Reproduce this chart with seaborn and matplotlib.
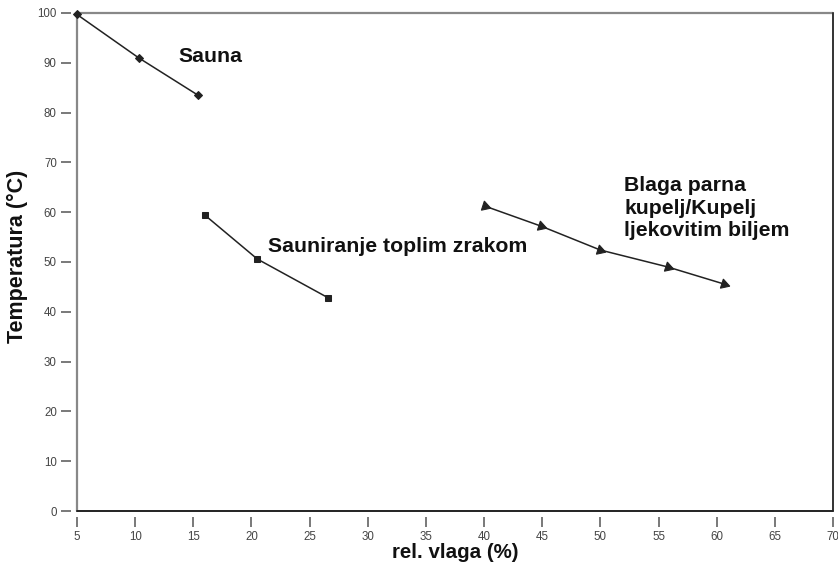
import matplotlib
matplotlib.use("Agg")
import matplotlib.pyplot as plt
from matplotlib.lines import Line2D
import seaborn as sns
import pandas as pd

sns.set_theme(style="white")
plt.rcParams['font.family'] = ['Liberation Sans', 'DejaVu Sans']

sauna_x = [5.0, 10.3, 15.4]
sauna_y = [99.7, 91.0, 83.5]
topli_x = [16.0, 20.5, 26.6]
topli_y = [59.4, 50.6, 42.8]
blaga_x = [40.1, 44.9, 50.0, 55.8, 60.6]
blaga_y = [61.2, 57.2, 52.4, 49.0, 45.6]

x_ticks = list(range(5, 75, 5))
y_ticks = list(range(0, 110, 10))

label_sauna = "Sauna"
label_topli = "Sauniranje toplim zrakom"
label_blaga = "Blaga parna\nkupelj/Kupelj\nljekovitim biljem"

fig = plt.figure(figsize=(8.38, 5.63), dpi=100)
ax = fig.add_axes([77/838, 1-511/563, (833-77)/838, (511-13)/563])

line_col = "#222222"
df1 = pd.DataFrame({"x": sauna_x, "y": sauna_y})
df2 = pd.DataFrame({"x": topli_x, "y": topli_y})
df3 = pd.DataFrame({"x": blaga_x, "y": blaga_y})

sns.lineplot(data=df1, x="x", y="y", ax=ax, color=line_col, lw=1.1,
             marker="D", markersize=4.5, markeredgecolor=line_col, markerfacecolor=line_col,
             clip_on=False, zorder=5)
sns.lineplot(data=df2, x="x", y="y", ax=ax, color=line_col, lw=1.1,
             marker="s", markersize=4.5, markeredgecolor=line_col, markerfacecolor=line_col,
             clip_on=False, zorder=5)
sns.lineplot(data=df3, x="x", y="y", ax=ax, color=line_col, lw=1.1,
             marker=(3, 0, -108), markersize=8, markeredgecolor=line_col, markerfacecolor=line_col,
             clip_on=False, zorder=5)

ax.set_xlim(5, 70)
ax.set_ylim(0, 100)
ax.set_xticks(x_ticks)
ax.set_yticks(y_ticks)

for s in ["left", "bottom"]:
    ax.spines[s].set_position(("outward", 4))
    ax.spines[s].set_visible(False)
for s in ["top", "right"]:
    ax.spines[s].set_visible(False)

ax.tick_params(axis="both", which="both", direction="out", length=7.5, width=1.1,
               color="#555555", labelsize=8.3, labelcolor="#444444", pad=3,
               bottom=True, left=True)

ax.add_line(Line2D([0, 0], [0, 1], transform=ax.transAxes, color="#888888", lw=1.6, clip_on=False, zorder=3))
ax.add_line(Line2D([0, 1], [1, 1], transform=ax.transAxes, color="#888888", lw=1.6, clip_on=False, zorder=3))
ax.add_line(Line2D([1, 1], [0, 1], transform=ax.transAxes, color="#333333", lw=1.4, clip_on=False, zorder=3))
ax.add_line(Line2D([0, 1], [0, 0], transform=ax.transAxes, color="#222222", lw=1.4, clip_on=False, zorder=3))

ax.set_xlabel("rel. vlaga (%)", fontsize=14.8, fontweight="bold", color="#111111", labelpad=0)
ax.set_ylabel("Temperatura (°C)", fontsize=15.5, fontweight="bold", color="#111111", labelpad=7)
ax.yaxis.label.set_y(0.512)

ax.text(13.75, 91.2, label_sauna, fontsize=15.3, fontweight="bold", color="#111111", va="center")
ax.text(21.4, 53.2, label_topli, fontsize=15.3, fontweight="bold", color="#111111", va="center")
ax.text(52.05, 60.8, label_blaga, fontsize=15.3, fontweight="bold", color="#111111",
        va="center", ha="left", linespacing=1.25)

fig.savefig("out.png", dpi=100)
